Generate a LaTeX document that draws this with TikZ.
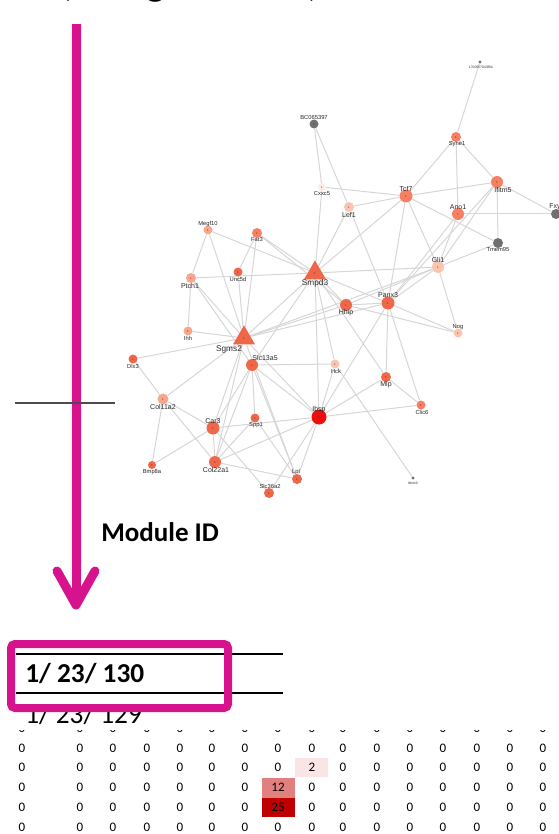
\documentclass[tikz,border=0pt]{standalone}
\usepackage{fontspec}
\setmainfont{Liberation Sans}
\newfontfamily\calib{Carlito}
\usetikzlibrary{shapes.geometric}
\pgfdeclarelayer{edges}
\pgfsetlayers{edges,main}
\definecolor{pinkm}{RGB}{214,18,140}
\definecolor{edgec}{RGB}{214,214,214}
\definecolor{gRed}{RGB}{238,12,12}
\definecolor{gDeep}{RGB}{240,102,72}
\definecolor{gMid}{RGB}{247,128,98}
\definecolor{gLight}{RGB}{248,166,140}
\definecolor{gPale}{RGB}{250,196,176}
\definecolor{gPaler}{RGB}{253,236,228}
\definecolor{gGray}{RGB}{112,112,112}
\definecolor{lblc}{RGB}{40,40,40}
\definecolor{cellA}{RGB}{251,228,228}
\definecolor{cellB}{RGB}{226,128,128}
\definecolor{cellC}{RGB}{192,0,0}
\begin{document}
\begin{tikzpicture}[x=0.75pt,y=-0.75pt,
  gene/.style={circle,fill=#1,draw=none,inner sep=0pt,font=\fontsize{2.2}{2.4}\selectfont,text=black!75},
  rad/.style={minimum size=1.5pt*#1},
  tri/.style={regular polygon,regular polygon sides=3,fill=gDeep,draw=none,inner sep=0pt,minimum size=19pt,font=\fontsize{2.2}{2.4}\selectfont,text=black!75},
  lmid/.style={font=\fontsize{5.25}{6}\selectfont,text=lblc,inner sep=0pt},
  lbig/.style={font=\fontsize{6.2}{7}\selectfont,text=lblc,inner sep=0pt},
  lsm/.style={font=\fontsize{4.35}{5}\selectfont,text=lblc,inner sep=0pt},
  ltiny/.style={font=\fontsize{2.5}{3}\selectfont,text=lblc,inner sep=0pt},
  edge/.style={draw=edgec,line width=0.75pt},
  pinkline/.style={draw=pinkm,line width=6.75pt},
  num/.style={font=\calib\fontsize{9.75}{11}\selectfont,inner sep=0pt},
  cell/.style={minimum width=24.75pt,minimum height=14.6pt,inner sep=0pt,draw=none},
]
\useasboundingbox (0,0) rectangle (558,834);

% heading, almost entirely above the page
\node[font=\calib\bfseries\fontsize{30}{34}\selectfont,anchor=base west,inner sep=0pt] (head) at (60,-4.6) {(Using WGCNA)};

% magenta arrow with a faint shadow
\coordinate (atop) at (76,24);
\coordinate (atip) at (76,605);
\coordinate (aleft) at (57,571);
\coordinate (aright) at (95,571);
\draw[draw=black,opacity=0.045,line width=9.5pt] (atop) -- (atip);
\draw[pinkline,line cap=butt] (atop) -- (atip);
\draw[pinkline,line cap=round,line join=round] (aleft) -- (atip) -- (aright);

% short rule on the left
\coordinate (rl) at (15,403);
\coordinate (rr) at (115,403);
\draw[draw=black!70,line width=1.1pt] (rl) -- (rr);

% ---------- gene network ----------
\node[gene=gGray,minimum size=2.5pt] (t1) at (480,62) {};
\node[gene=gGray,rad=4.5] (bc) at (314,124) {1};
\node[gene=gMid,rad=5] (syne1) at (456,137) {1};
\node[gene=gPaler,rad=4] (cxxc5) at (322,187) {1};
\node[gene=gMid,rad=6.5] (tcf7) at (406,196) {1};
\node[gene=gMid,rad=6] (ifitm5) at (497,182) {1};
\node[gene=gPale,rad=5] (lef1) at (349,207) {1};
\node[gene=gMid,rad=6] (ano1) at (458,214) {1};
\node[gene=gGray,rad=5] (fxyd) at (556,214) {};
\node[gene=gGray,rad=5] (tmem95) at (498,243) {};
\node[gene=gLight,rad=4.5] (megf10) at (208,230) {1};
\node[gene=gMid,rad=5] (fat3) at (257,233) {1};
\node[gene=gPale,rad=6] (gli1) at (438,267) {1};
\node[gene=gDeep,rad=4.5] (unc5d) at (238,272) {1};
\node[tri] (smpd3) at (315,273) {1};
\node[gene=gLight,rad=5] (ptch1) at (191,278) {1};
\node[gene=gDeep,rad=6.5] (panx3) at (388,303) {1};
\node[gene=gDeep,rad=6] (hhip) at (346,305) {1};
\node[gene=gLight,rad=4.5] (ihh) at (188,331) {1};
\node[gene=gPale,rad=4.5] (nog) at (458,333) {1};
\node[tri] (sgms2) at (244,338) {1};
\node[gene=gDeep,rad=4.5] (dlx3) at (133,359) {1};
\node[gene=gDeep,rad=6] (slc13a5) at (252,365) {1};
\node[gene=gPale,rad=4.5] (hck) at (335,364) {1};
\node[gene=gDeep,rad=5] (mlp) at (386,377) {1};
\node[gene=gLight,rad=5.5] (col11a2) at (163,399) {1};
\node[gene=gMid,rad=4.5] (clic6) at (421,405) {1};
\node[gene=gRed,rad=7.5] (ibsp) at (319,417) {1};
\node[gene=gDeep,rad=4.5] (spp1) at (255,418) {1};
\node[gene=gDeep,rad=6.5] (car3) at (213,428) {1};
\node[gene=gDeep,rad=6] (col22a1) at (215,462) {1};
\node[gene=gDeep,rad=4] (bmp8a) at (152,465) {1};
\node[gene=gDeep,rad=5] (lpl) at (297,479) {1};
\node[gene=gGray,minimum size=2.5pt] (t2) at (413,478) {};
\node[gene=gDeep,rad=5] (slc36a2) at (269,493) {1};

% gene names
\node[ltiny] (l-t1) at (481,67) {1700057G03Rik};
\node[lsm] (l-bc) at (314,118) {BC065397};
\node[lsm] (l-syne1) at (457,144) {Syne1};
\node[lsm] (l-cxxc5) at (322,194) {Cxxc5};
\node[lmid] (l-tcf7) at (406,189) {Tcf7};
\node[lmid] (l-ifitm5) at (503,190) {Ifitm5};
\node[lmid] (l-lef1) at (349,215) {Lef1};
\node[lmid] (l-ano1) at (458,207) {Ano1};
\node[lmid] (l-fxyd) at (557,207) {Fxyd};
\node[lsm] (l-tmem95) at (498,250) {Tmem95};
\node[lsm] (l-megf10) at (208,224) {Megf10};
\node[lsm] (l-fat3) at (257,240) {Fat3};
\node[lmid] (l-gli1) at (438,260) {Gli1};
\node[lsm] (l-unc5d) at (238,279) {Unc5d};
\node[lbig] (l-smpd3) at (315,283) {Smpd3};
\node[lmid] (l-ptch1) at (190,286) {Ptch1};
\node[lmid] (l-panx3) at (388,295) {Panx3};
\node[lmid] (l-hhip) at (346,313) {Hhip};
\node[lsm] (l-ihh) at (188,338) {Ihh};
\node[lsm] (l-nog) at (458,327) {Nog};
\node[lbig] (l-sgms2) at (229,349) {Sgms2};
\node[lsm] (l-dlx3) at (133,366) {Dlx3};
\node[lmid] (l-slc13a5) at (265,358) {Slc13a5};
\node[lsm] (l-hck) at (336,371) {Hck};
\node[lmid] (l-mlp) at (386,385) {Mlp};
\node[lmid] (l-col11a2) at (163,407) {Col11a2};
\node[lsm] (l-clic6) at (422,412) {Clic6};
\node[lmid] (l-ibsp) at (319,410) {Ibsp};
\node[lsm] (l-spp1) at (256,425) {Spp1};
\node[lmid] (l-car3) at (213,421) {Car3};
\node[lmid] (l-col22a1) at (216,470) {Col22a1};
\node[lsm] (l-bmp8a) at (152,472) {Bmp8a};
\node[lsm] (l-lpl) at (296,472) {Lpl};
\node[ltiny] (l-t2) at (413,483) {Wnt10};
\node[lsm] (l-slc36a2) at (270,486) {Slc36a2};

\begin{pgfonlayer}{edges}
\foreach \a/\b in {t1/syne1, syne1/tcf7, syne1/ano1, syne1/ifitm5,
  bc/cxxc5, bc/lef1, cxxc5/tcf7, cxxc5/smpd3,
  lef1/tcf7, lef1/smpd3, lef1/panx3,
  tcf7/ifitm5, tcf7/tmem95, tcf7/smpd3, tcf7/panx3, tcf7/gli1,
  ifitm5/fxyd, ifitm5/tmem95, ifitm5/gli1, ifitm5/panx3,
  ano1/fxyd, ano1/gli1, ano1/panx3, tmem95/gli1,
  gli1/smpd3, gli1/nog, gli1/panx3, gli1/hhip, gli1/sgms2,
  panx3/nog, hhip/nog, panx3/hhip, panx3/sgms2, panx3/smpd3, panx3/mlp,
  panx3/ibsp, panx3/clic6, hhip/smpd3, hhip/sgms2,
  smpd3/sgms2, smpd3/megf10, smpd3/fat3, smpd3/ptch1, smpd3/slc13a5,
  smpd3/hck, smpd3/ibsp, smpd3/mlp,
  megf10/ptch1, megf10/sgms2, fat3/unc5d, fat3/sgms2, fat3/hhip,
  unc5d/sgms2, ptch1/ihh, ptch1/sgms2, ptch1/slc13a5, ihh/sgms2,
  dlx3/sgms2, dlx3/col11a2,
  sgms2/col11a2, sgms2/car3, sgms2/col22a1, sgms2/ibsp, sgms2/lpl,
  slc13a5/hck, slc13a5/ibsp, slc13a5/car3, slc13a5/col22a1,
  slc13a5/spp1, slc13a5/lpl,
  hck/ibsp, hck/t2, mlp/ibsp, mlp/clic6, clic6/ibsp,
  col11a2/bmp8a, col11a2/car3, col11a2/col22a1, bmp8a/car3,
  car3/ibsp, car3/col22a1, car3/slc36a2,
  col22a1/ibsp, col22a1/lpl, col22a1/spp1, spp1/lpl,
  ibsp/lpl, ibsp/slc36a2}
  \draw[edge] (\a) -- (\b);
\end{pgfonlayer}

% ---------- module id ----------
\node[font=\calib\bfseries\fontsize{20.25}{22}\selectfont,anchor=base west,inner sep=0pt] (modid) at (101,541) {Module ID};

\coordinate (ta) at (16,654);
\coordinate (tb) at (283,654);
\coordinate (tc) at (16,693);
\coordinate (td) at (283,693);
\draw[line width=1.2pt] (ta) -- (tb);
\draw[line width=1.2pt] (tc) -- (td);
\node[font=\calib\bfseries\fontsize{20.5}{22}\selectfont,anchor=base west,inner sep=0pt] (id1) at (25,682) {1/ 23/ 130};
\node[font=\calib\fontsize{20.5}{22}\selectfont,anchor=base west,inner sep=0pt] (id2) at (25,723) {1/ 23/ 129};

\coordinate (bxa) at (11,644);
\coordinate (bxb) at (228,708);
\draw[draw=pinkm,line width=6pt,rounded corners=3pt] (bxa) rectangle (bxb);

% ---------- count table ----------
\node[cell,fill=cellA] (hA) at (311.5,767.5) {};
\node[cell,fill=cellB] (hB) at (278.5,788) {};
\node[cell,fill=cellC] (hC) at (278.5,807.5) {};
\begin{scope}
\clip (0,730) rectangle (558,834);
\foreach \r/\y in {0/728.25,1/748,2/767.75,3/787.5,4/807.25,5/827}{
  \foreach \c/\x in {1/22,2/80,3/113,4/147,5/180,6/212,7/245,8/278,9/312,10/343,11/377,12/410,13/443,14/477,15/510,16/543}{
    \pgfmathsetmacro\v{0}
    \ifnum\r=2 \ifnum\c=9 \def\v{2}\fi\fi
    \ifnum\r=3 \ifnum\c=8 \def\v{12}\fi\fi
    \ifnum\r=4 \ifnum\c=8 \def\v{25}\fi\fi
    \node[num] (n-\r-\c) at (\x,\y) {\ifnum\v=0 0\else\v\fi};
  }
}
\end{scope}
\end{tikzpicture}
\end{document}
